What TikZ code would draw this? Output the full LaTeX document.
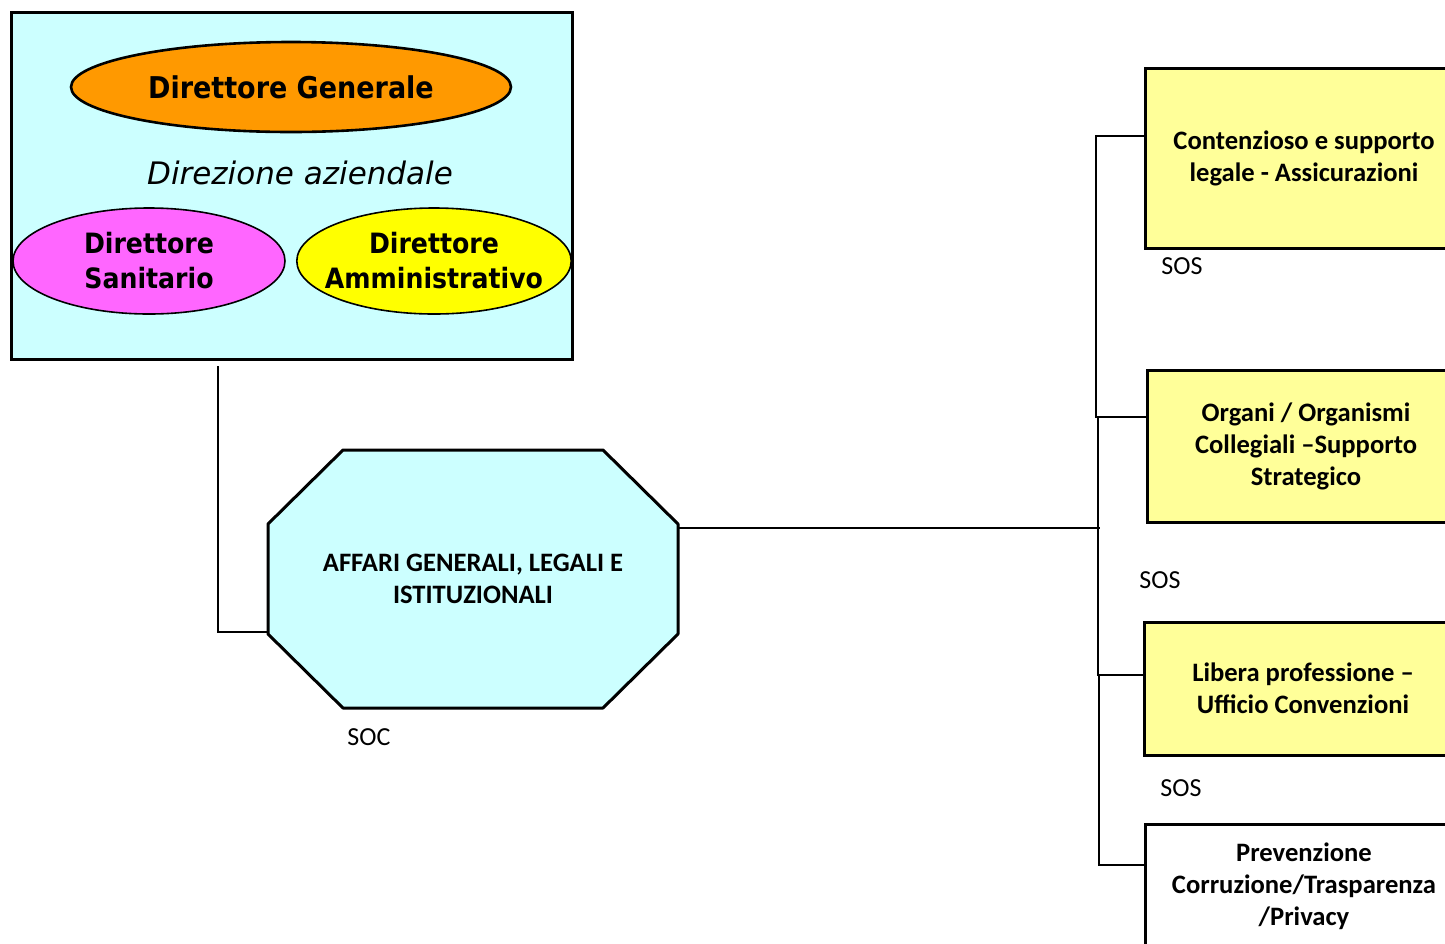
\documentclass[tikz,border=0pt]{standalone}
\usepackage{fontspec}
\setmainfont{Carlito}
\newfontfamily\vera{DejaVu Sans}
\newfontfamily\verab{DejaVu Sans Condensed Bold}
\usetikzlibrary{shapes.geometric}
\pgfdeclarelayer{background}
\pgfsetlayers{background,main}
\definecolor{celeste}{HTML}{CCFFFF}
\definecolor{arancio}{HTML}{FF9900}
\definecolor{rosa}{HTML}{FF66FF}
\definecolor{giallo}{HTML}{FFFF00}
\definecolor{paglia}{HTML}{FFFF99}
\tikzset{
	dirigente/.style={ellipse,draw,inner ysep=0pt,inner xsep=-6pt,font=\verab\fontsize{14}{17.5}\selectfont,align=center},
	struttura/.style={rectangle,draw,line width=1.5pt,minimum width=159pt,align=center,
		font=\bfseries\fontsize{13.3}{16}\selectfont},
	sigla/.style={font=\fontsize{13}{16}\selectfont,inner sep=0pt},
	conn/.style={line width=0.75pt}
}
\begin{document}
\begin{tikzpicture}[x=0.5pt,y=-0.5pt]
	\useasboundingbox (0,0) rectangle (1445,943);
	% direzione aziendale
	\node[rectangle,draw,fill=celeste,line width=1.5pt,minimum width=280.5pt,minimum height=173.5pt]
		(direz) at (291.5,185.5) {};
	\node[dirigente,fill=arancio,line width=1.3pt,minimum width=220pt,minimum height=45pt,
		font=\verab\fontsize{15}{18}\selectfont] (dg) at (291,87) {Direttore Generale};
	\node[font=\vera\itshape\fontsize{15.5}{18}\selectfont] (dirlab) at (300,173) {Direzione aziendale};
	\node[dirigente,fill=rosa,line width=0.8pt,minimum width=136pt,minimum height=53pt]
		(ds) at (149,261) {Direttore\\Sanitario};
	\node[dirigente,fill=giallo,line width=0.8pt,minimum width=136pt,minimum height=53pt]
		(da) at (434,261) {Direttore\\Amministrativo};

	% struttura complessa
	\node[rectangle,outer sep=0pt,minimum width=205pt,minimum height=129pt,align=center,
		font=\bfseries\fontsize{13.3}{16}\selectfont] (affari) at (473,579)
		{AFFARI GENERALI, LEGALI E\\ISTITUZIONALI};
	\node[sigla] (soc) at (369,737) {SOC};

	% strutture semplici
	\node[struttura,fill=paglia,minimum height=90pt] (cont) at (1304,158)
		{Contenzioso e supporto\\legale - Assicurazioni};
	\node[sigla] (sos1) at (1182,266) {SOS};
	\node[struttura,fill=paglia,minimum height=76pt] (org) at (1306,446)
		{Organi / Organismi\\Collegiali –Supporto\\Strategico};
	\node[sigla] (sos2) at (1160,580) {SOS};
	\node[struttura,fill=paglia,minimum height=66.5pt] (lib) at (1303,688.5)
		{Libera professione –\\Ufficio Convenzioni};
	\node[sigla] (sos3) at (1181,788) {SOS};
	\node[struttura,fill=white,minimum height=62pt] (prev) at (1304,886)
		{Prevenzione\\Corruzione/Trasparenza\\/Privacy};

	% collegamenti
	\coordinate (dirbase) at (218,366);
	\coordinate (snodo) at (1100,528);
	\coordinate (b1) at (1096,136);
	\coordinate (b2) at (1096,417);
	\coordinate (b3) at (1098,675);
	\coordinate (b4) at (1099,865);
	\draw[conn] (dirbase) |- ([yshift=-26.5pt]affari.west);
	\draw[conn] ([yshift=25.5pt]affari.east) -- (snodo);
	\draw[conn] (b1 -| cont.west) -- (b1) -- (b2) -- (b2 -| org.west);
	\draw[conn] (b2) -- (b2 -| b3) -- (b3) -- (b3 -| lib.west);
	\draw[conn] (b3) -- (b3 -| b4) -- (b4) -- (b4 -| prev.west);

\begin{pgfonlayer}{background}
	\draw[fill=celeste,line width=1.5pt,line join=round]
		([xshift=37.5pt]affari.north west) -- ([xshift=-37.5pt]affari.north east)
		-- ([yshift=-37pt]affari.north east) -- ([yshift=37pt]affari.south east)
		-- ([xshift=-37.5pt]affari.south east) -- ([xshift=37.5pt]affari.south west)
		-- ([yshift=37pt]affari.south west) -- ([yshift=-37pt]affari.north west) -- cycle;
\end{pgfonlayer}
\end{tikzpicture}
\end{document}
